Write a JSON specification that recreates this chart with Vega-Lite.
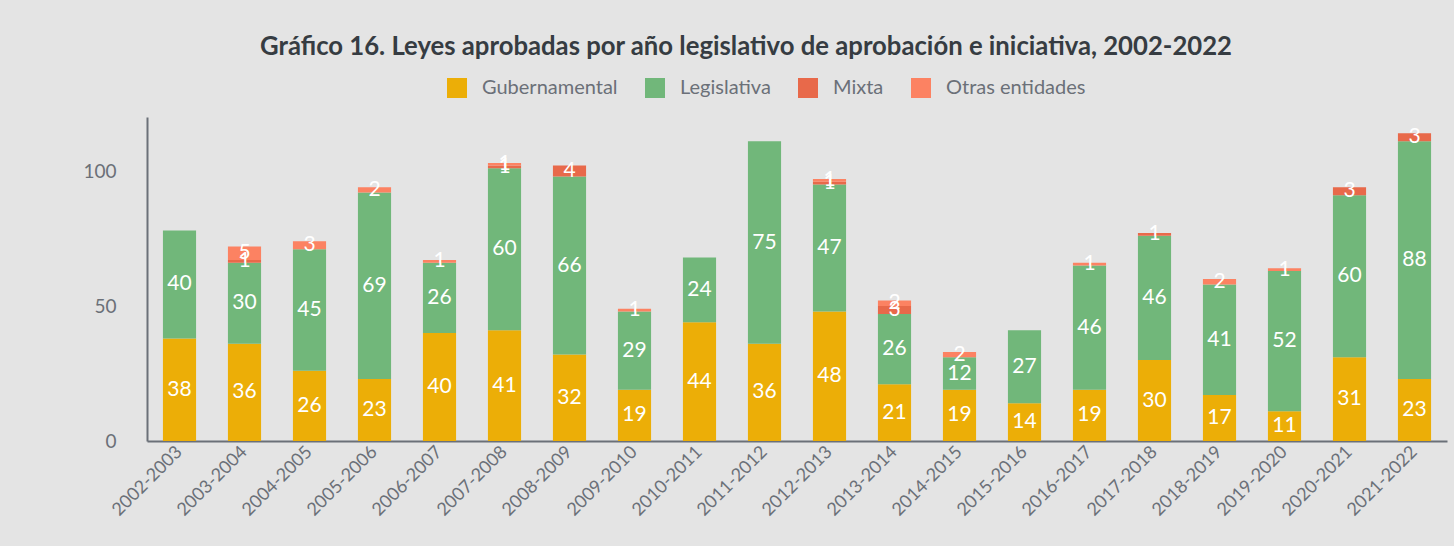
{
  "$schema": "https://vega.github.io/schema/vega-lite/v6.json",
  "autosize": {"type": "none"},
  "width": 1300,
  "height": 324,
  "padding": {"left": 147, "top": 117, "right": 7, "bottom": 105},
  "background": "#e4e4e4",
  "title": {
    "text": "Gráfico 16. Leyes aprobadas por año legislativo de aprobación e iniciativa, 2002-2022",
    "font": "Lato",
    "fontSize": 25.7,
    "fontWeight": "bold",
    "color": "#363c42",
    "anchor": "middle",
    "dx": -51,
    "offset": 17
  },
  "config": {
    "view": {"stroke": null},
    "font": "Lato"
  },
  "data": {
    "values": [
      {"year": "2002-2003", "cat": "Gubernamental", "v": 38},
      {"year": "2002-2003", "cat": "Legislativa", "v": 40},
      {"year": "2003-2004", "cat": "Gubernamental", "v": 36},
      {"year": "2003-2004", "cat": "Legislativa", "v": 30},
      {"year": "2003-2004", "cat": "Mixta", "v": 1},
      {"year": "2003-2004", "cat": "Otras entidades", "v": 5},
      {"year": "2004-2005", "cat": "Gubernamental", "v": 26},
      {"year": "2004-2005", "cat": "Legislativa", "v": 45},
      {"year": "2004-2005", "cat": "Otras entidades", "v": 3},
      {"year": "2005-2006", "cat": "Gubernamental", "v": 23},
      {"year": "2005-2006", "cat": "Legislativa", "v": 69},
      {"year": "2005-2006", "cat": "Otras entidades", "v": 2},
      {"year": "2006-2007", "cat": "Gubernamental", "v": 40},
      {"year": "2006-2007", "cat": "Legislativa", "v": 26},
      {"year": "2006-2007", "cat": "Otras entidades", "v": 1},
      {"year": "2007-2008", "cat": "Gubernamental", "v": 41},
      {"year": "2007-2008", "cat": "Legislativa", "v": 60},
      {"year": "2007-2008", "cat": "Mixta", "v": 1},
      {"year": "2007-2008", "cat": "Otras entidades", "v": 1},
      {"year": "2008-2009", "cat": "Gubernamental", "v": 32},
      {"year": "2008-2009", "cat": "Legislativa", "v": 66},
      {"year": "2008-2009", "cat": "Mixta", "v": 4},
      {"year": "2009-2010", "cat": "Gubernamental", "v": 19},
      {"year": "2009-2010", "cat": "Legislativa", "v": 29},
      {"year": "2009-2010", "cat": "Otras entidades", "v": 1},
      {"year": "2010-2011", "cat": "Gubernamental", "v": 44},
      {"year": "2010-2011", "cat": "Legislativa", "v": 24},
      {"year": "2011-2012", "cat": "Gubernamental", "v": 36},
      {"year": "2011-2012", "cat": "Legislativa", "v": 75},
      {"year": "2012-2013", "cat": "Gubernamental", "v": 48},
      {"year": "2012-2013", "cat": "Legislativa", "v": 47},
      {"year": "2012-2013", "cat": "Mixta", "v": 1},
      {"year": "2012-2013", "cat": "Otras entidades", "v": 1},
      {"year": "2013-2014", "cat": "Gubernamental", "v": 21},
      {"year": "2013-2014", "cat": "Legislativa", "v": 26},
      {"year": "2013-2014", "cat": "Mixta", "v": 3},
      {"year": "2013-2014", "cat": "Otras entidades", "v": 2},
      {"year": "2014-2015", "cat": "Gubernamental", "v": 19},
      {"year": "2014-2015", "cat": "Legislativa", "v": 12},
      {"year": "2014-2015", "cat": "Otras entidades", "v": 2},
      {"year": "2015-2016", "cat": "Gubernamental", "v": 14},
      {"year": "2015-2016", "cat": "Legislativa", "v": 27},
      {"year": "2016-2017", "cat": "Gubernamental", "v": 19},
      {"year": "2016-2017", "cat": "Legislativa", "v": 46},
      {"year": "2016-2017", "cat": "Otras entidades", "v": 1},
      {"year": "2017-2018", "cat": "Gubernamental", "v": 30},
      {"year": "2017-2018", "cat": "Legislativa", "v": 46},
      {"year": "2017-2018", "cat": "Mixta", "v": 1},
      {"year": "2018-2019", "cat": "Gubernamental", "v": 17},
      {"year": "2018-2019", "cat": "Legislativa", "v": 41},
      {"year": "2018-2019", "cat": "Otras entidades", "v": 2},
      {"year": "2019-2020", "cat": "Gubernamental", "v": 11},
      {"year": "2019-2020", "cat": "Legislativa", "v": 52},
      {"year": "2019-2020", "cat": "Otras entidades", "v": 1},
      {"year": "2020-2021", "cat": "Gubernamental", "v": 31},
      {"year": "2020-2021", "cat": "Legislativa", "v": 60},
      {"year": "2020-2021", "cat": "Mixta", "v": 3},
      {"year": "2021-2022", "cat": "Gubernamental", "v": 23},
      {"year": "2021-2022", "cat": "Legislativa", "v": 88},
      {"year": "2021-2022", "cat": "Mixta", "v": 3}
    ]
  },
  "transform": [
    {"stack": "v", "groupby": ["year"], "sort": [{"field": "cat", "order": "ascending"}], "as": ["y0", "y1"]},
    {"calculate": "(datum.y0 + datum.y1) / 2", "as": "ymid"}
  ],
  "encoding": {
    "x": {
      "field": "year",
      "type": "ordinal",
      "title": null,
      "scale": {"paddingInner": 0.49, "paddingOuter": 0.245},
      "axis": {
        "labelAngle": -45,
        "labelAlign": "right",
        "labelBaseline": "middle",
        "labelFontSize": 18,
        "labelColor": "#6b7078",
        "labelPadding": 8,
        "ticks": false,
        "domainColor": "#6b7078",
        "domainWidth": 2
      }
    }
  },
  "layer": [
    {
      "mark": {"type": "bar"},
      "encoding": {
        "y": {
          "field": "y0",
          "type": "quantitative",
          "title": null,
          "scale": {"domain": [0, 120], "nice": false},
          "axis": {
            "values": [0, 50, 100],
            "grid": false,
            "ticks": false,
            "labelFontSize": 19,
            "labelColor": "#6b7078",
            "labelPadding": 31,
            "domainColor": "#6b7078",
            "domainWidth": 2
          }
        },
        "y2": {"field": "y1"},
        "color": {
          "field": "cat",
          "type": "nominal",
          "scale": {
            "domain": ["Gubernamental", "Legislativa", "Mixta", "Otras entidades"],
            "range": ["#ecae07", "#71b77a", "#e8694a", "#fc8262"]
          },
          "legend": {
            "title": null,
            "orient": "none",
            "direction": "horizontal",
            "legendX": 300,
            "legendY": -39,
            "symbolType": "square",
            "symbolSize": 400,
            "symbolStrokeWidth": 0,
            "labelFont": "Lato",
            "labelFontSize": 20,
            "labelColor": "#6b7078",
            "labelOffset": 15,
            "columnPadding": 27
          }
        }
      }
    },
    {
      "mark": {"type": "text", "color": "white", "fontSize": 21, "font": "Lato", "baseline": "middle"},
      "encoding": {
        "y": {"field": "ymid", "type": "quantitative"},
        "text": {"field": "v", "type": "quantitative"}
      }
    }
  ]
}
